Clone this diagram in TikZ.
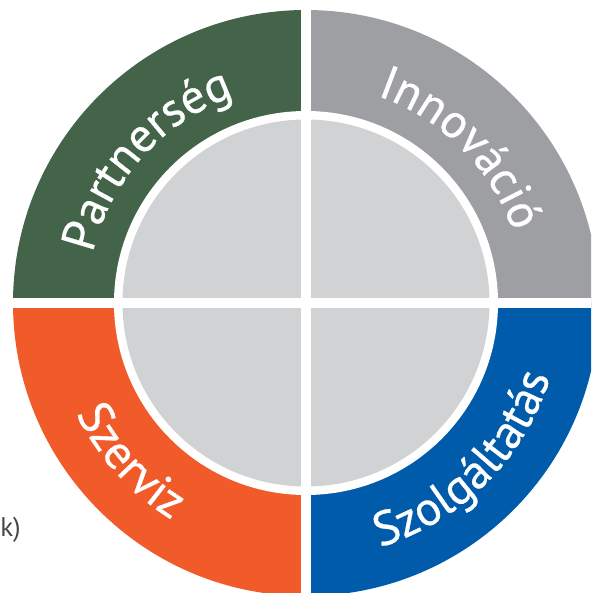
\documentclass[tikz,border=0pt]{standalone}
\usepackage{fontspec}
\setmainfont{PT Sans}
\newfontfamily\ringfont[FakeBold=0.6]{PT Sans}
\usetikzlibrary{decorations.text}
\definecolor{cgreen}{RGB}{67,100,73}
\definecolor{cgrey}{RGB}{157,159,162}
\definecolor{corange}{RGB}{241,91,42}
\definecolor{cblue}{RGB}{0,91,170}
\definecolor{cinner}{RGB}{209,210,212}
\definecolor{ctext}{RGB}{70,70,72}
\tikzset{
  ringlabel/.style={decorate, decoration={text along path, text align=center, text={|\ringfont\fontsize{48}{48}\selectfont\color{white}|#1}}},
}
\begin{document}
\begin{tikzpicture}[x=1pt,y=1pt]
\useasboundingbox (0,0) rectangle (591,-593);
\clip (0,0) rectangle (591,-593);
\begin{scope}[shift={(306,-303)}]
  \fill[cgrey] (0,0) -- (0:293pt) arc[start angle=0,end angle=90,radius=293pt] -- cycle;
  \fill[cgreen] (0,0) -- (90:293pt) arc[start angle=90,end angle=180,radius=293pt] -- cycle;
  \fill[corange] (0,0) -- (180:293pt) arc[start angle=180,end angle=270,radius=293pt] -- cycle;
  \fill[cblue] (0,0) -- (270:293pt) arc[start angle=270,end angle=360,radius=293pt] -- cycle;
  \fill[white] (0,0) circle[radius=192pt];
  \fill[cinner] (0,0) circle[radius=183.5pt];
  \fill[white] (-320pt,-5.3pt) rectangle (320pt,5.3pt);
  \fill[white] (-5.3pt,-320pt) rectangle (5.3pt,320pt);
  \path[ringlabel={Partnerség}] (183:219pt) arc[start angle=183,end angle=93,radius=219pt];
  \path[ringlabel={Innováció}] (90:219pt) arc[start angle=90,end angle=0,radius=219pt];
  \path[ringlabel={Szerviz}] (177:255pt) arc[start angle=177,end angle=267,radius=255pt];
  \path[ringlabel={Szolgáltatás}] (270:255pt) arc[start angle=270,end angle=360,radius=255pt];
\end{scope}
\node[anchor=base east, inner sep=0pt, text=ctext, font=\fontsize{27}{27}\selectfont] (frag) at (21,-536) {k)};
\end{tikzpicture}
\end{document}
